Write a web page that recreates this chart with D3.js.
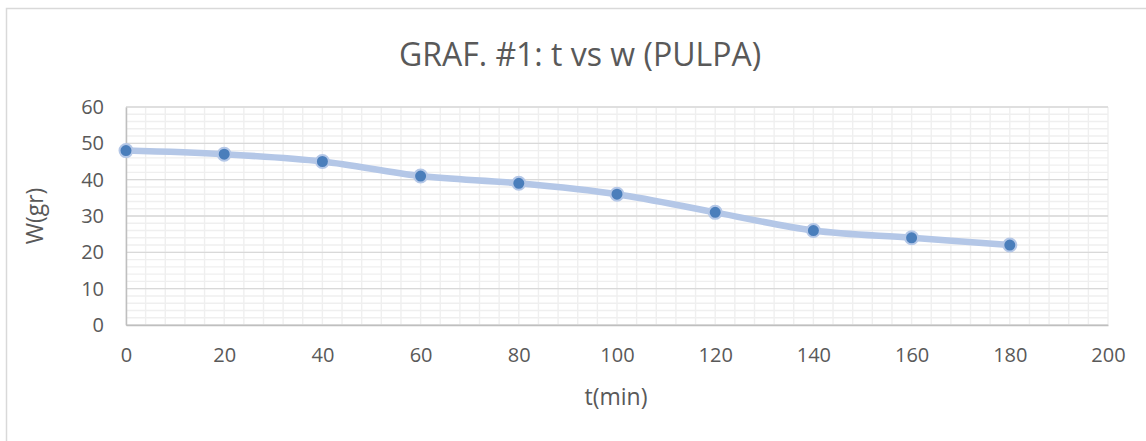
<!DOCTYPE html>
<html>
<head>
<meta charset="utf-8">
<script src="https://cdn.jsdelivr.net/npm/d3@7"></script>
<style>
  html, body { margin: 0; padding: 0; background: #fff; }
  svg { display: block; }
  text { font-family: "Open Sans", sans-serif; fill: #595959; }
</style>
</head>
<body>
<svg id="chart" width="1146" height="441"></svg>
<script>
// Drying curve of the pulp: weight over time
const timeMin = [0, 20, 40, 60, 80, 100, 120, 140, 160, 180];
const weightGr = [48, 47, 45, 41, 39, 36, 31, 26, 24, 22];
const xTicks = [0, 20, 40, 60, 80, 100, 120, 140, 160, 180, 200];
const yTicks = [0, 10, 20, 30, 40, 50, 60];
const titleText = "GRAF. #1: t vs w (PULPA)";
const xTitle = "t(min)";
const yTitle = "W(gr)";

const svg = d3.select("#chart");
const W = 1146, H = 441;
const plot = { left: 126, right: 1108, top: 107, bottom: 325 };

// chart frame
svg.append("rect")
  .attr("x", 6.5).attr("y", 8.5)
  .attr("width", W + 10).attr("height", H + 10)
  .attr("fill", "#fff").attr("stroke", "#d9d9d9").attr("stroke-width", 1.5);

const x = d3.scaleLinear().domain([0, 200]).range([plot.left, plot.right]);
const y = d3.scaleLinear().domain([0, 60]).range([plot.bottom, plot.top]);

const grid = svg.append("g");
// minor gridlines
grid.selectAll("line.vx").data(d3.range(0, 201, 4)).join("line")
  .attr("x1", d => x(d)).attr("x2", d => x(d))
  .attr("y1", plot.top).attr("y2", plot.bottom)
  .attr("stroke", "#efefef").attr("stroke-width", 1.4);
grid.selectAll("line.hy").data(d3.range(0, 61, 2)).join("line")
  .attr("x1", plot.left).attr("x2", plot.right)
  .attr("y1", d => y(d)).attr("y2", d => y(d))
  .attr("stroke", "#efefef").attr("stroke-width", 1.4);
// major horizontal gridlines
grid.selectAll("line.my").data(yTicks).join("line")
  .attr("x1", plot.left).attr("x2", plot.right)
  .attr("y1", d => y(d)).attr("y2", d => y(d))
  .attr("stroke", "#d9d9d9").attr("stroke-width", 1.4);

// axes
const xAxis = svg.append("g")
  .attr("transform", `translate(0,${plot.bottom})`)
  .call(d3.axisBottom(x).tickValues(xTicks).tickSize(0).tickPadding(23));
xAxis.select(".domain").attr("stroke", "#bfbfbf").attr("stroke-width", 1.5);
xAxis.selectAll("text").style("font-size", "20px").style("fill", "#595959");

const yAxis = svg.append("g")
  .attr("transform", `translate(${plot.left},0)`)
  .call(d3.axisLeft(y).tickValues(yTicks).tickSize(0).tickPadding(22));
yAxis.select(".domain").attr("stroke", "#bfbfbf").attr("stroke-width", 1.5);
yAxis.selectAll("text").style("font-size", "20px").style("fill", "#595959");

// series
const pts = timeMin.map((t, i) => [t, weightGr[i]]);
svg.append("path")
  .datum(pts)
  .attr("fill", "none")
  .attr("stroke", "#b4c7e7")
  .attr("stroke-width", 6.5)
  .attr("stroke-linecap", "round")
  .attr("d", d3.line().x(d => x(d[0])).y(d => y(d[1])).curve(d3.curveCatmullRom));

svg.append("g").selectAll("circle").data(pts).join("circle")
  .attr("cx", d => x(d[0])).attr("cy", d => y(d[1]))
  .attr("r", 6.5)
  .attr("fill", "#4a7ebb")
  .attr("stroke", "#b4c7e7").attr("stroke-width", 2);

// titles
svg.append("text").attr("x", 580).attr("y", 66)
  .attr("text-anchor", "middle").style("font-size", "32px").text(titleText);
svg.append("text").attr("x", 616).attr("y", 405)
  .attr("text-anchor", "middle").style("font-size", "23px").text(xTitle);
svg.append("text").attr("transform", `translate(43,${(plot.top + plot.bottom) / 2}) rotate(-90)`)
  .attr("text-anchor", "middle").style("font-size", "23px").text(yTitle);
</script>
</body>
</html>
